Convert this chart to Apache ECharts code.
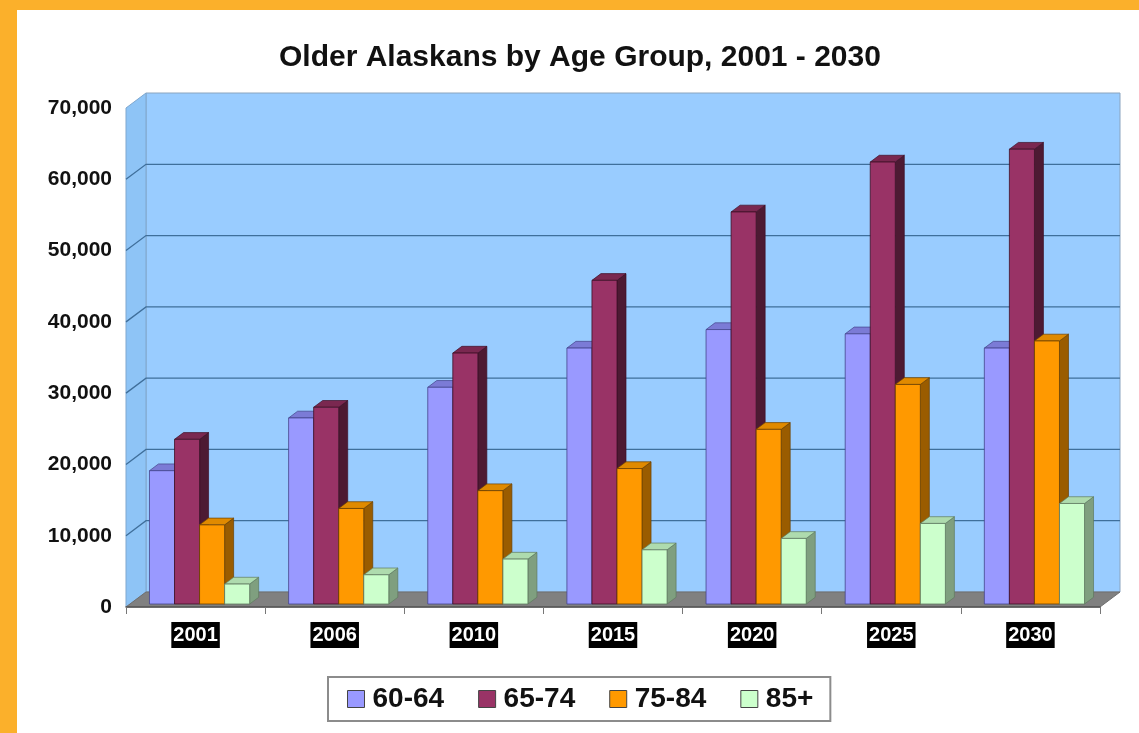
<!DOCTYPE html>
<html>
<head>
<meta charset="utf-8">
<script src="https://cdn.jsdelivr.net/npm/echarts@6/dist/echarts.min.js"></script>
<style>
html,body{margin:0;padding:0;background:#fff;}
#chart{width:1139px;height:733px;}
</style>
</head>
<body>
<div id="chart"></div>
<script>
const categories = ['2001', '2006', '2010', '2015', '2020', '2025', '2030'];
const seriesNames = ['60-64', '65-74', '75-84', '85+'];
const age6064 = [18700, 26100, 30400, 35900, 38500, 37900, 35900];
const age6574 = [23100, 27600, 35200, 45400, 55000, 62000, 63800];
const age7584 = [11100, 13400, 15900, 19000, 24500, 30800, 36900];
const age85 = [2800, 4100, 6300, 7600, 9200, 11300, 14100];
const yMax = 70000;
const yStep = 10000;

const seriesValues = [age6064, age6574, age7584, age85];
const palette = [
  {front: '#9999FF', side: '#5d5da8', top: '#7b7bd6', stroke: '#44448a'},
  {front: '#993366', side: '#4d1a33', top: '#7a2850', stroke: '#3d1026'},
  {front: '#FF9900', side: '#9a5c00', top: '#e08a00', stroke: '#6b4000'},
  {front: '#CCFFCC', side: '#7f9f7f', top: '#aedbae', stroke: '#5f7a5f'}
];

const DX = 20, DY = -15;       // depth of the 3D box
const FRONT = 0.2, DEPTH = 0.45; // bar position / thickness within depth

function frameRender(params, api) {
  const cs = params.coordSys;
  const x0 = cs.x, x1 = cs.x + cs.width, yt = cs.y, yb = cs.y + cs.height;
  const children = [];
  children.push({type: 'polygon', shape: {points: [[x0 + DX, yt + DY], [x1 + DX, yt + DY], [x1 + DX, yb + DY], [x0 + DX, yb + DY]]},
    style: {fill: '#99CCFF', stroke: '#8aa4bf', lineWidth: 1}});
  children.push({type: 'polygon', shape: {points: [[x0, yt], [x0 + DX, yt + DY], [x0 + DX, yb + DY], [x0, yb]]},
    style: {fill: '#8EC4F6', stroke: '#7ea7cf', lineWidth: 1}});
  children.push({type: 'polygon', shape: {points: [[x0, yb], [x1, yb], [x1 + DX, yb + DY], [x0 + DX, yb + DY]]},
    style: {fill: '#808080', stroke: '#6e6e6e', lineWidth: 1}});
  for (let v = yStep; v < yMax; v += yStep) {
    const y = api.coord([0, v])[1];
    children.push({type: 'polyline', shape: {points: [[x0, y], [x0 + DX, y + DY], [x1 + DX, y + DY]]},
      style: {stroke: '#3f6f9b', lineWidth: 1.3, fill: null}});
  }
  return {type: 'group', children: children};
}

function barRender(k) {
  const c = palette[k];
  return function (params, api) {
    const ci = api.value(0), v = api.value(1);
    const base = api.coord([ci, 0]);
    const top = api.coord([ci, v]);
    const band = api.size([1, 0])[0];
    const w = band * 0.18;
    const xL = base[0] + (k - 2) * w + DX * FRONT;
    const xR = xL + w;
    const yB = base[1] + DY * FRONT;
    const yT = top[1] + DY * FRONT;
    const ox = DX * DEPTH, oy = DY * DEPTH;
    return {type: 'group', children: [
      {type: 'polygon', shape: {points: [[xR, yB], [xR + ox, yB + oy], [xR + ox, yT + oy], [xR, yT]]},
        style: {fill: c.side, stroke: c.stroke, lineWidth: 0.7}},
      {type: 'polygon', shape: {points: [[xL, yT], [xR, yT], [xR + ox, yT + oy], [xL + ox, yT + oy]]},
        style: {fill: c.top, stroke: c.stroke, lineWidth: 0.7}},
      {type: 'rect', shape: {x: xL, y: yT, width: w, height: yB - yT},
        style: {fill: c.front, stroke: c.stroke, lineWidth: 0.8}}
    ]};
  };
}

const series = [{
  type: 'custom', name: 'frame', silent: true, z: 1,
  renderItem: frameRender, data: [[0, 0]], encode: {x: 0, y: 1}
}];
seriesValues.forEach(function (vals, k) {
  series.push({
    type: 'custom', name: seriesNames[k], z: 2,
    itemStyle: {color: palette[k].front},
    renderItem: barRender(k),
    encode: {x: 0, y: 1},
    data: vals.map(function (v, i) { return [i, v]; })
  });
});

const chart = echarts.init(document.getElementById('chart'));
chart.setOption({
  animation: false,
  backgroundColor: '#ffffff',
  title: {
    text: 'Older Alaskans by Age Group, 2001 - 2030',
    left: 274, top: 38,
    textStyle: {fontFamily: 'Liberation Sans, Arial, sans-serif', fontWeight: 'bold', fontSize: 30, color: '#111'}
  },
  graphic: [
    {type: 'rect', shape: {x: 0, y: 0, width: 1139, height: 10}, style: {fill: '#FBB02B'}, z: 100},
    {type: 'rect', shape: {x: 0, y: 0, width: 17, height: 733}, style: {fill: '#FBB02B'}, z: 100}
  ],
  legend: {
    left: 328, top: 677,
    data: seriesNames.map(function (n, k) {
      return {name: n, icon: 'rect', itemStyle: {color: palette[k].front, borderColor: '#444', borderWidth: 1}};
    }),
    itemWidth: 17, itemHeight: 17, itemGap: 34,
    padding: [8, 17, 8, 19],
    backgroundColor: '#fff', borderColor: '#8c8c8c', borderWidth: 2,
    textStyle: {fontFamily: 'Liberation Sans, Arial, sans-serif', fontWeight: 'bold', fontSize: 28, color: '#111', padding: [0, 0, 0, 3]}
  },
  grid: {left: 126, right: 39, top: 108, bottom: 126},
  xAxis: {
    type: 'category', data: categories, boundaryGap: true, z: 5,
    axisLine: {show: true, lineStyle: {color: '#555', width: 1.5}},
    axisTick: {show: true, length: 7, lineStyle: {color: '#777'}},
    axisLabel: {
      color: '#fff', backgroundColor: '#000', padding: [3, 2, 3, 2], margin: 15,
      fontFamily: 'Liberation Sans, Arial, sans-serif', fontWeight: 'bold', fontSize: 20
    }
  },
  yAxis: {
    type: 'value', min: 0, max: yMax, interval: yStep,
    axisLine: {show: false}, axisTick: {show: false}, splitLine: {show: false},
    axisLabel: {
      margin: 14, color: '#111',
      fontFamily: 'Liberation Sans, Arial, sans-serif', fontWeight: 'bold', fontSize: 21,
      formatter: function (v) { return v.toLocaleString('en-US'); }
    }
  },
  series: series
});
</script>
</body>
</html>
